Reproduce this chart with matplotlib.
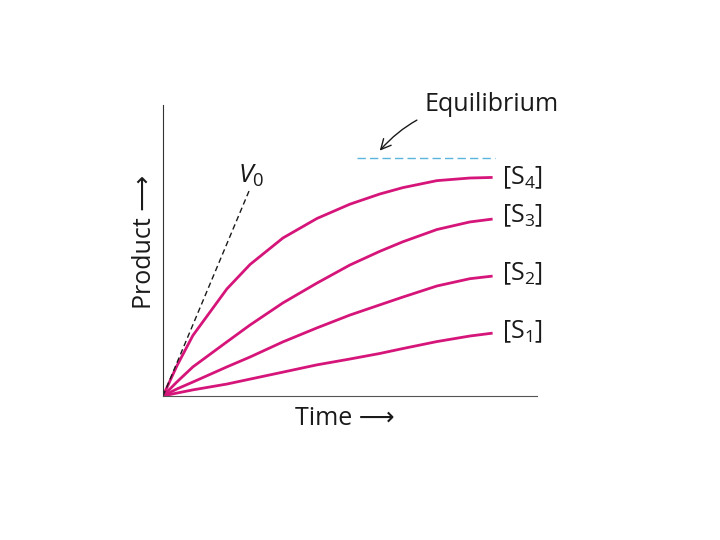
import numpy as np
import matplotlib.pyplot as plt

plt.rcParams['font.family'] = ['Open Sans', 'DejaVu Sans']
plt.rcParams['mathtext.fontset'] = 'custom'
plt.rcParams['mathtext.rm'] = 'Open Sans'
plt.rcParams['mathtext.it'] = 'Open Sans:italic'

# time points (fraction of axis) and product curves
t = [0.0, 0.037, 0.080, 0.171, 0.233, 0.321, 0.412, 0.500, 0.580, 0.642, 0.733, 0.821, 0.882]
s4 = [0.0, 0.103, 0.208, 0.368, 0.452, 0.543, 0.610, 0.659, 0.694, 0.716, 0.740, 0.749, 0.751]
s3 = [0.0, 0.048, 0.100, 0.186, 0.244, 0.320, 0.388, 0.450, 0.497, 0.530, 0.572, 0.598, 0.608]
s2 = [0.0, 0.024, 0.048, 0.100, 0.134, 0.186, 0.234, 0.278, 0.313, 0.340, 0.378, 0.403, 0.412]
s1 = [0.0, 0.010, 0.021, 0.041, 0.058, 0.082, 0.107, 0.127, 0.146, 0.163, 0.187, 0.206, 0.216]
curves = [s1, s2, s3, s4]
labels = ['[S$_1$]', '[S$_2$]', '[S$_3$]', '[S$_4$]']
label_y = [0.222, 0.421, 0.620, 0.750]

v0_x = [0.0, 0.233]
v0_y = [0.0, 0.713]
eq_x = [0.519, 0.888]
eq_y = 0.818

fig = plt.figure(figsize=(7.2, 5.4), dpi=100)
ax = fig.add_axes([0.2264, 0.2667, 0.519, 0.5389])
ax.set_xlim(0, 1)
ax.set_ylim(0, 1)

for ys, lab, ly in zip(curves, labels, label_y):
    ax.plot(t, ys, color='#d6157a', lw=2.0, solid_joinstyle='round', solid_capstyle='butt')
    ax.text(t[-1] + 0.024, ly, lab, fontsize=18, va='center', ha='left', color='#1a1a1a')

ax.plot(v0_x, v0_y, color='#1a1a1a', lw=1.0, ls=(0, (4, 2.5)))
ax.text(0.200, 0.732, '$\\mathit{V}_{0}$', fontsize=19, color='#1a1a1a', ha='left', va='baseline')

ax.plot(eq_x, [eq_y, eq_y], color='#5ab4dc', lw=1.0, ls=(0, (6, 3)))
ax.annotate('Equilibrium', xy=(0.58, eq_y + 0.025), xytext=(0.70, 1.0),
            fontsize=18, color='#1a1a1a', ha='left', va='center',
            arrowprops=dict(arrowstyle='->', color='#1a1a1a', lw=1.0,
                            connectionstyle='arc3,rad=0.25', shrinkA=4, shrinkB=0))

for s in ['top', 'right']:
    ax.spines[s].set_visible(False)
ax.spines['left'].set_color('#333333')
ax.spines['bottom'].set_color('#555555')
ax.set_xticks([])
ax.set_yticks([])

ax.set_xlabel('Time \u27f6', fontsize=18, color='#1a1a1a')
ax.set_ylabel('Product \u27f6', fontsize=18, color='#1a1a1a')
ax.xaxis.set_label_coords(0.487, -0.035, transform=ax.transAxes)
ax.xaxis.label.set_va('top')
ax.yaxis.set_label_coords(-0.05, 0.53, transform=ax.transAxes)
ax.yaxis.label.set_va('center')

fig.savefig('out.png', dpi=100)
